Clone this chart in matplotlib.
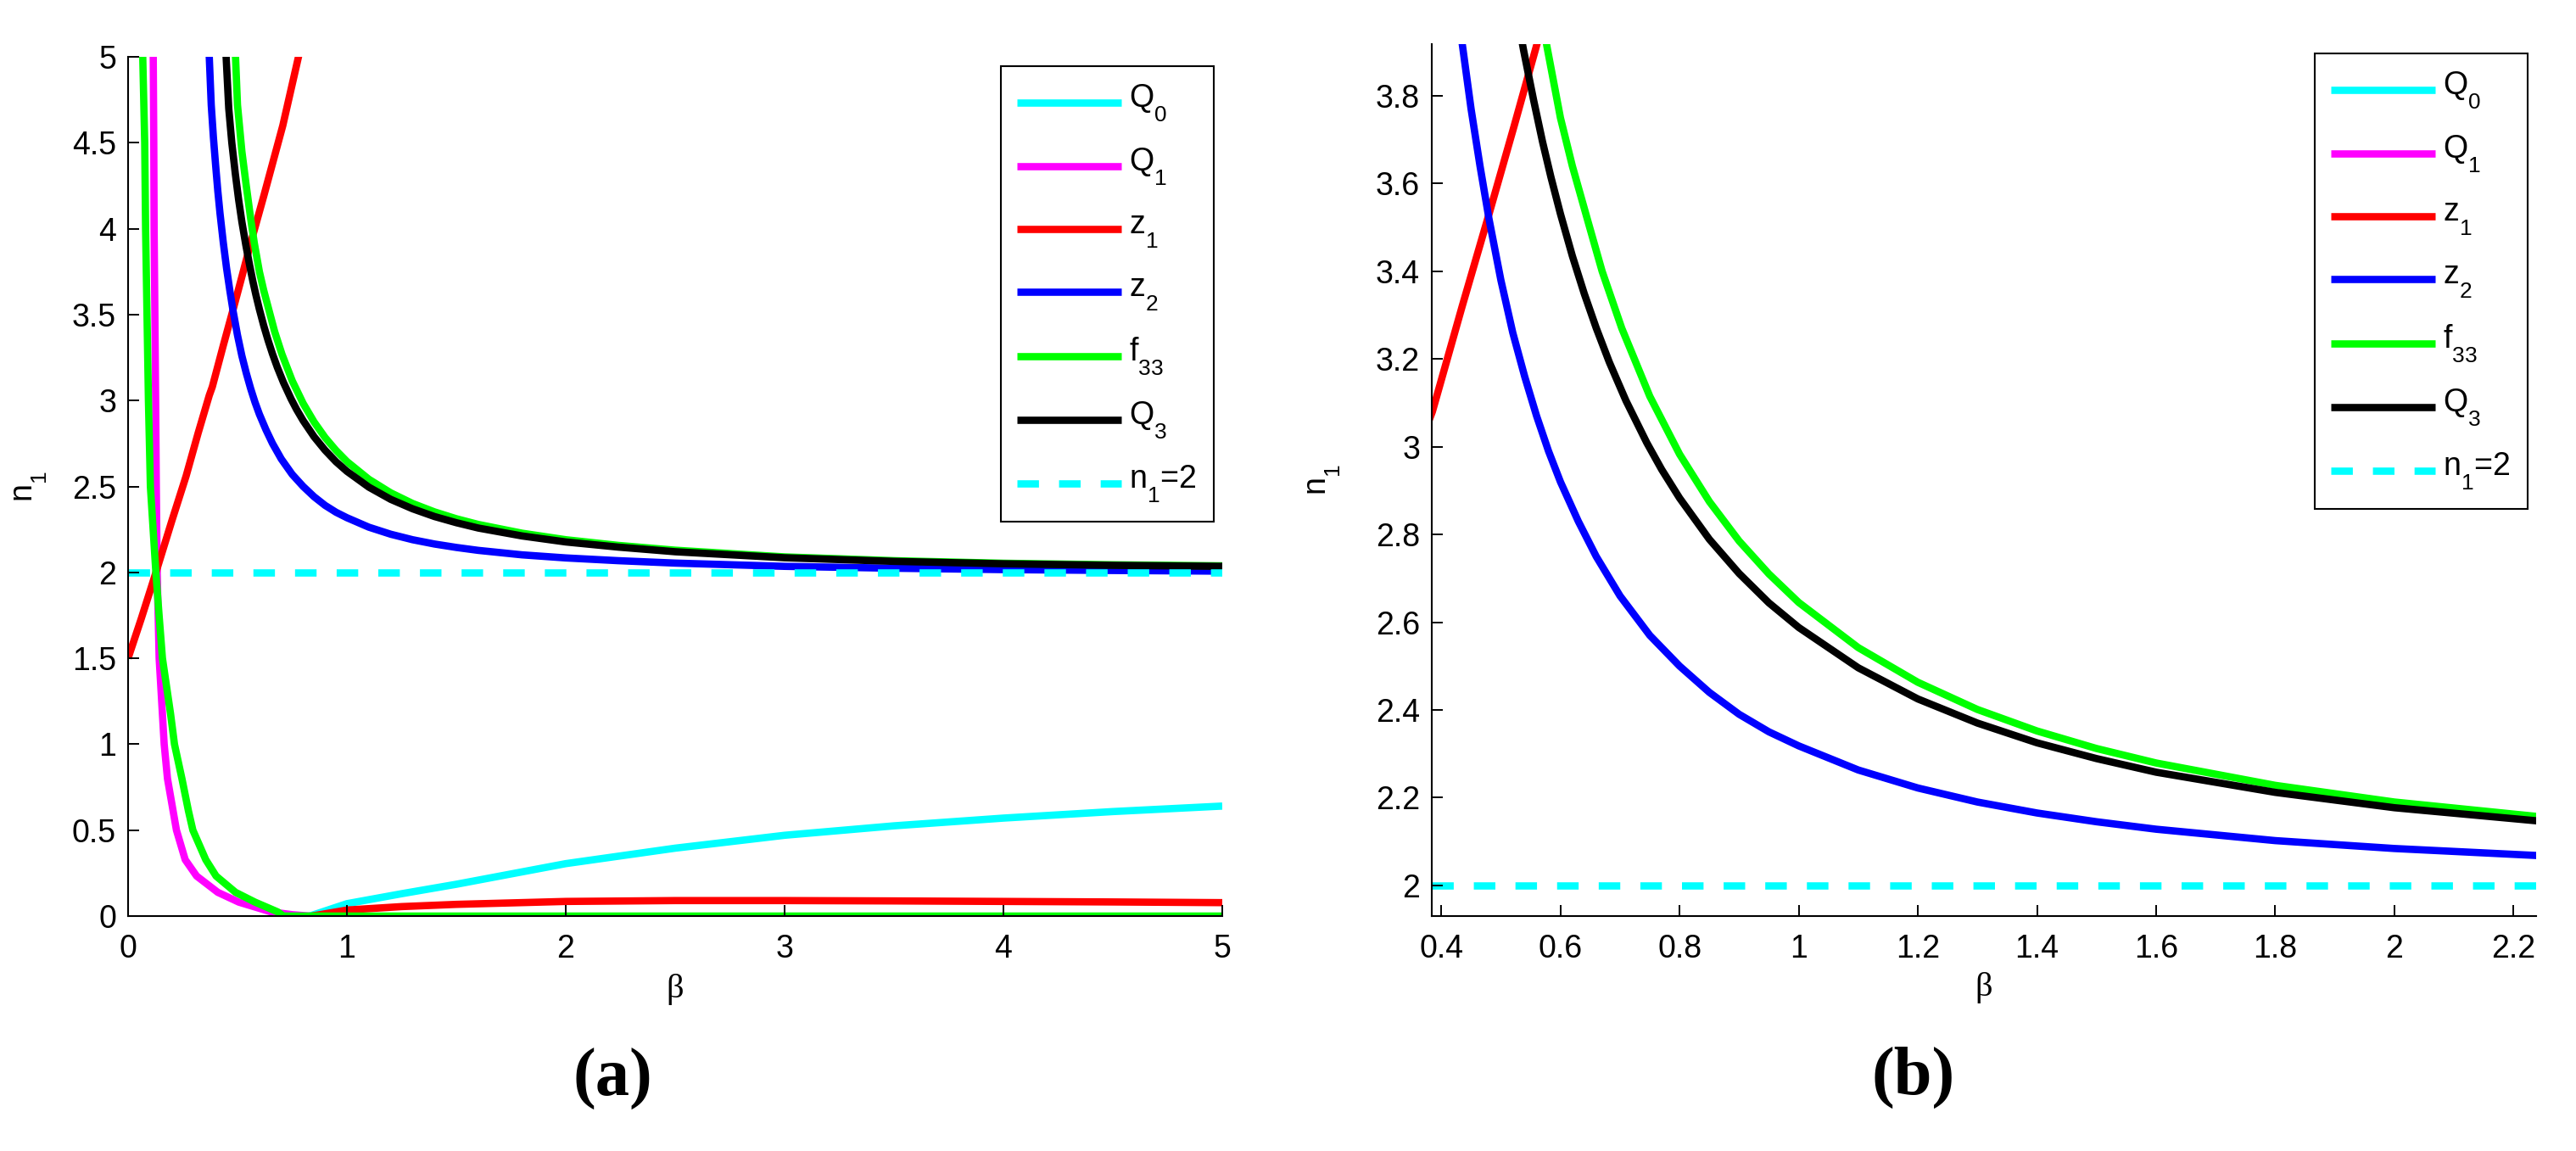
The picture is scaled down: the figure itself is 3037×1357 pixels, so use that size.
import matplotlib
matplotlib.use('Agg')
import matplotlib.pyplot as plt
from matplotlib.ticker import FixedLocator, FuncFormatter
from matplotlib.lines import Line2D
from matplotlib.legend_handler import HandlerLine2D

# ---------------- data ----------------
Q0_beta = [0.83, 1.0, 1.25, 1.5, 2.0, 2.5, 3.0, 3.5, 4.0, 4.5, 5.0]
Q0_n1 = [0.0, 0.072, 0.13, 0.185, 0.305, 0.395, 0.47, 0.525, 0.57, 0.608, 0.64]

Q1_beta = [0.114, 0.115, 0.1175, 0.119, 0.126, 0.129, 0.133, 0.142, 0.165, 0.18,
           0.221, 0.261, 0.313, 0.41, 0.506, 0.654, 0.75, 0.832]
Q1_n1 = [5.3, 5.0, 4.5, 4.0, 3.0, 2.5, 2.0, 1.5, 1.0, 0.8,
         0.5, 0.328, 0.233, 0.138, 0.081, 0.024, 0.008, 0.0]

z1_up_beta = [0.0, 0.06, 0.12, 0.20, 0.265, 0.32, 0.371, 0.385, 0.435, 0.48,
              0.522, 0.561, 0.62, 0.707, 0.784, 0.81]
z1_up_n1 = [1.50, 1.73, 1.97, 2.30, 2.56, 2.81, 3.03, 3.08, 3.32, 3.53,
            3.73, 3.92, 4.19, 4.60, 5.03, 5.15]
z1_low_beta = [0.84, 1.0, 1.25, 1.5, 2.0, 2.5, 3.0, 3.5, 4.0, 4.5, 5.0]
z1_low_n1 = [0.0, 0.035, 0.055, 0.068, 0.085, 0.09, 0.09, 0.088, 0.085, 0.082, 0.078]

z2_beta = [0.366, 0.371, 0.38, 0.39, 0.40, 0.41, 0.42, 0.435, 0.45, 0.465,
           0.48, 0.50, 0.52, 0.54, 0.56, 0.58, 0.60, 0.63, 0.66, 0.70,
           0.75, 0.80, 0.85, 0.90, 0.95, 1.00, 1.10, 1.20, 1.30, 1.40,
           1.50, 1.60, 1.80, 2.00, 2.24, 2.50, 3.00, 3.50, 4.00, 4.50, 5.00]
z2_n1 = [5.20, 5.00, 4.72, 4.53, 4.37, 4.22, 4.09, 3.92, 3.77, 3.64,
         3.52, 3.38, 3.26, 3.16, 3.07, 2.99, 2.92, 2.83, 2.75, 2.66,
         2.57, 2.50, 2.44, 2.39, 2.35, 2.318, 2.263, 2.222, 2.190, 2.165,
         2.145, 2.128, 2.102, 2.084, 2.068, 2.054, 2.035, 2.024, 2.016, 2.011, 2.007]

f33_low_beta = [0.066, 0.067, 0.076, 0.080, 0.093, 0.102, 0.127, 0.142, 0.157, 0.194,
                0.212, 0.246, 0.276, 0.296, 0.355, 0.402, 0.491, 0.58, 0.684, 0.71, 5.0]
f33_low_n1 = [5.3, 5.0, 4.5, 4.0, 3.0, 2.5, 2.0, 1.745, 1.5, 1.178,
              1.0, 0.80, 0.611, 0.5, 0.328, 0.233, 0.138, 0.081, 0.024, 0.0, 0.0]
f33_up_beta = [0.487, 0.491, 0.50, 0.52, 0.54, 0.56, 0.577, 0.60, 0.62, 0.647,
               0.67, 0.703, 0.75, 0.80, 0.85, 0.90, 0.95, 1.00, 1.10, 1.20,
               1.30, 1.40, 1.50, 1.60, 1.80, 2.00, 2.24, 2.50, 3.00, 3.50,
               4.00, 4.50, 5.00]
f33_up_n1 = [5.20, 5.00, 4.72, 4.45, 4.25, 4.06, 3.915, 3.75, 3.64, 3.51,
             3.40, 3.27, 3.115, 2.983, 2.875, 2.785, 2.710, 2.645, 2.542, 2.463,
             2.401, 2.352, 2.312, 2.279, 2.228, 2.190, 2.157, 2.129, 2.090, 2.068,
             2.053, 2.044, 2.038]

Q3_beta = [0.444, 0.448, 0.46, 0.474, 0.49, 0.505, 0.52, 0.538, 0.555, 0.57,
           0.584, 0.60, 0.62, 0.64, 0.66, 0.682, 0.71, 0.745, 0.77, 0.80,
           0.85, 0.90, 0.95, 1.00, 1.10, 1.20, 1.30, 1.40, 1.50, 1.60,
           1.80, 2.00, 2.24, 2.50, 3.00, 3.50, 4.00, 4.50, 5.00]
Q3_n1 = [5.20, 5.00, 4.70, 4.50, 4.32, 4.17, 4.04, 3.905, 3.79, 3.695,
         3.615, 3.531, 3.435, 3.349, 3.271, 3.193, 3.105, 3.009, 2.948, 2.883,
         2.789, 2.711, 2.644, 2.588, 2.496, 2.425, 2.370, 2.325, 2.289, 2.258,
         2.212, 2.177, 2.147, 2.120, 2.085, 2.064, 2.050, 2.041, 2.035]

n1_ref = 2.0

labels = ['Q$_0$', 'Q$_1$', 'z$_1$', 'z$_2$', 'f$_{33}$', 'Q$_3$', 'n$_1$=2']

xticks_a = [0, 1, 2, 3, 4, 5]
yticks_a = [0, 0.5, 1, 1.5, 2, 2.5, 3, 3.5, 4, 4.5, 5]
xticks_b = [0.4, 0.6, 0.8, 1.0, 1.2, 1.4, 1.6, 1.8, 2.0, 2.2]
yticks_b = [2.0, 2.2, 2.4, 2.6, 2.8, 3.0, 3.2, 3.4, 3.6, 3.8]

# ---------------- style ----------------
plt.rcParams['font.family'] = ['Liberation Sans', 'DejaVu Sans']
plt.rcParams['mathtext.fontset'] = 'custom'
plt.rcParams['mathtext.rm'] = 'Liberation Sans'
plt.rcParams['mathtext.it'] = 'Liberation Sans'
plt.rcParams['mathtext.bf'] = 'Liberation Sans:bold'
plt.rcParams['mathtext.default'] = 'regular'
try:
    import matplotlib._mathtext as _mt
    _mt.FontConstantsBase.sub1 = 0.85
except Exception:
    pass

LW = 6.2
FS = 27
DASH = (0, (2.95, 2.75))
C = dict(Q0='#00ffff', Q1='#ff00ff', z1='#ff0000', z2='#0000ff', f33='#00ff00', Q3='#000000')


class LowHandler(HandlerLine2D):
    """Legend line centred on the whole label (text plus subscript)."""
    def create_artists(self, legend, orig_handle, xdescent, ydescent, width,
                       height, fontsize, trans):
        return super().create_artists(legend, orig_handle, xdescent,
                                      ydescent + 0.42 * fontsize, width, height,
                                      fontsize, trans)


fig = plt.figure(figsize=(30.37, 13.57), dpi=100)
fig.patch.set_facecolor('white')

ax_a = fig.add_axes([151 / 3037, 277 / 1357, 1290 / 3037, 1013 / 1357])
ax_b = fig.add_axes([1688 / 3037, 277 / 1357, 1302 / 3037, 1028 / 1357])


def draw(ax):
    kw = dict(lw=LW, solid_capstyle='butt', solid_joinstyle='round')
    ax.plot(Q0_beta, Q0_n1, color=C['Q0'], **kw)
    ax.plot(Q1_beta, Q1_n1, color=C['Q1'], **kw)
    ax.plot(z1_up_beta, z1_up_n1, color=C['z1'], **kw)
    ax.plot(z1_low_beta, z1_low_n1, color=C['z1'], **kw)
    ax.plot(z2_beta, z2_n1, color=C['z2'], **kw)
    ax.plot(f33_low_beta, f33_low_n1, color=C['f33'], **kw)
    ax.plot(f33_up_beta, f33_up_n1, color=C['f33'], **kw)
    ax.plot(Q3_beta, Q3_n1, color=C['Q3'], **kw)
    ax.axhline(n1_ref, color=C['Q0'], lw=LW, linestyle=DASH, dash_capstyle='butt')

    handles = [Line2D([], [], color=C[k], lw=LW, solid_capstyle='butt')
               for k in ['Q0', 'Q1', 'z1', 'z2', 'f33', 'Q3']]
    handles.append(Line2D([], [], color=C['Q0'], lw=LW, linestyle=DASH, dash_capstyle='butt'))
    try:
        hmap = {Line2D: LowHandler()}
        leg = ax.legend(handles, labels, loc='upper right', fontsize=FS, frameon=True,
                        fancybox=False, edgecolor='black', framealpha=1.0,
                        borderpad=0.52, handlelength=3.28, handletextpad=0.24,
                        labelspacing=0.70, borderaxespad=0.28, handler_map=hmap)
        fig.canvas.draw()
    except Exception:
        leg = ax.legend(handles, labels, loc='upper right', fontsize=FS, frameon=True,
                        fancybox=False, edgecolor='black', framealpha=1.0,
                        borderpad=0.52, handlelength=3.28, handletextpad=0.24,
                        labelspacing=0.70, borderaxespad=0.28)
    leg.get_frame().set_linewidth(1.5)

    for s in ['top', 'right']:
        ax.spines[s].set_visible(False)
    for s in ['left', 'bottom']:
        ax.spines[s].set_linewidth(1.5)
        ax.spines[s].set_zorder(3)
    ax.set_axisbelow(False)
    ax.tick_params(direction='in', length=9.7, width=1.4, labelsize=FS,
                   top=False, right=False)
    ax.tick_params(axis='x', pad=15)
    ax.tick_params(axis='y', pad=10)
    fmt = FuncFormatter(lambda v, p: '%g' % round(v, 6))
    ax.xaxis.set_major_formatter(fmt)
    ax.yaxis.set_major_formatter(fmt)
    ax.set_xlabel('β', fontsize=29, family='Liberation Serif')
    ax.set_ylabel('n$_1$', fontsize=FS)


ax_a.set_xlim(0, 5)
ax_a.set_ylim(0, 5)
ax_b.set_xlim(0.384, 2.238)
ax_b.set_ylim(1.93, 3.918)

draw(ax_a)
ax_a.set_xlim(0, 5)
ax_a.set_ylim(0, 5)
ax_a.xaxis.set_major_locator(FixedLocator(xticks_a))
ax_a.yaxis.set_major_locator(FixedLocator(yticks_a))
ax_a.yaxis.set_label_coords(-0.072, 0.5)
ax_a.xaxis.set_label_coords(0.5, -0.067)

draw(ax_b)
ax_b.set_xlim(0.384, 2.238)
ax_b.set_ylim(1.93, 3.918)
ax_b.xaxis.set_major_locator(FixedLocator(xticks_b))
ax_b.yaxis.set_major_locator(FixedLocator(yticks_b))
ax_b.yaxis.set_label_coords(-0.0806, 0.5)
ax_b.xaxis.set_label_coords(0.5, -0.064)

fig.text(722 / 3037, 1 - 1272 / 1357, '(a)', ha='center', va='center',
         fontsize=58, fontweight='bold', family='Liberation Serif')
fig.text(2256 / 3037, 1 - 1270 / 1357, '(b)', ha='center', va='center',
         fontsize=58, fontweight='bold', family='Liberation Serif')

fig.savefig('out.png', dpi=100, facecolor='white')
